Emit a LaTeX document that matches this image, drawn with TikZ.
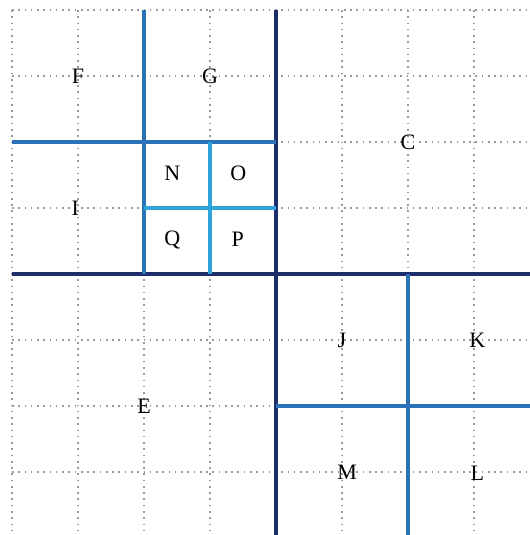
\documentclass[tikz,border=0pt]{standalone}
\usepackage{fontspec}
\setmainfont{Liberation Serif}
\definecolor{navyq}{HTML}{1C2F6B}
\definecolor{midq}{HTML}{2B73B8}
\definecolor{lightq}{HTML}{2FA3D8}
\tikzset{
  gridline/.style={gray!80,dotted,line width=0.7pt},
  lvlone/.style={navyq,line width=1.6pt},
  lvltwo/.style={midq,line width=1.4pt},
  lvlthree/.style={lightq,line width=1.4pt},
  cell/.style={font=\fontsize{9.5}{11}\selectfont,inner sep=0pt}
}
\begin{document}
\begin{tikzpicture}[y=-1cm]
  % page size follows the cut-off grid on the right and bottom
  \useasboundingbox (-0.182,-0.152) rectangle (7.848,7.955);
  \clip (-0.182,-0.152) rectangle (7.848,7.955);
  % dotted background grid
  \foreach \k in {0,...,7} {
    \draw[gridline] (\k,0) -- (\k,8);
    \draw[gridline] (0,\k) -- (8,\k);
  }
  % first split
  \draw[lvlone] (4,0) -- (4,8);
  \draw[lvlone] (0,4) -- (8,4);
  % second split, top left and bottom right
  \draw[lvltwo] (2,0) -- (2,4);
  \draw[lvltwo] (0,2) -- (4,2);
  \draw[lvltwo] (6,4) -- (6,8);
  \draw[lvltwo] (4,6) -- (8,6);
  % third split
  \draw[lvlthree] (3,2) -- (3,4);
  \draw[lvlthree] (2,3) -- (4,3);
  % labels
  \node[cell] (F) at (1,1) {F};
  \node[cell] (G) at (3,1) {G};
  \node[cell] (C) at (6,2) {C};
  \node[cell] (I) at (0.96,3) {I};
  \node[cell] (N) at (2.43,2.48) {N};
  \node[cell] (O) at (3.43,2.48) {O};
  \node[cell] (Q) at (2.43,3.48) {Q};
  \node[cell] (P) at (3.42,3.48) {P};
  \node[cell] (E) at (2,6) {E};
  \node[cell] (J) at (5,5) {J};
  \node[cell] (K) at (7.05,5) {K};
  \node[cell] (M) at (5.08,7) {M};
  \node[cell] (L) at (7.05,7.02) {L};
\end{tikzpicture}
\end{document}
